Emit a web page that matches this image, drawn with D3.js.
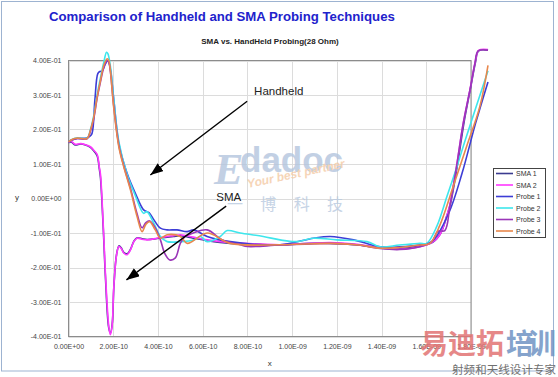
<!DOCTYPE html>
<html>
<head>
<meta charset="utf-8">
<script src="https://cdn.jsdelivr.net/npm/d3@7"></script>
<style>
	body { margin: 0; background: #fff; }
	svg { display: block; font-family: 'Liberation Sans', Arial, sans-serif; }
</style>
</head>
<body>
<div id="chart"></div>
<script>
// series names / colours as in the legend
var seriesNames = ['SMA 1', 'SMA 2', 'Probe 1', 'Probe 2', 'Probe 3', 'Probe 4'];
var seriesColors = ['#3b3b8f', '#ff38ff', '#3d3dd6', '#3ee6ec', '#9a36b8', '#e8874c'];

// [time in ps, volts]
var sma1 = [[0,0.162],[13,0.163],[31,0.155],[54,0.158],[76,0.155],[98,0.148],[113,0.138],[128,0.124],[138,0.085],[143,0.06],[155,-0.08],[165,-0.225],[180,-0.375],[188,-0.39],[196,-0.36],[203,-0.255],[215,-0.162],[226,-0.137],[236,-0.143],[248,-0.157],[263,-0.16],[278,-0.146],[293,-0.123],[308,-0.114],[330,-0.117],[352,-0.119],[396,-0.116],[441,-0.112],[470,-0.11],[500,-0.108],[558,-0.115],[620,-0.122],[723,-0.13],[857,-0.133],[946,-0.135],[1080,-0.13],[1170,-0.13],[1281,-0.134],[1393,-0.143],[1482,-0.146],[1571,-0.138],[1630,-0.126],[1665,-0.1],[1692,-0.05],[1710,-0.01],[1740,0.1],[1770,0.225],[1798,0.32],[1820,0.395],[1834,0.428],[1876,0.43]];
var sma2 = [[0,0.164],[13,0.165],[31,0.157],[54,0.159],[76,0.156],[98,0.15],[113,0.14],[128,0.128],[138,0.09],[143,0.07],[155,-0.072],[165,-0.216],[180,-0.37],[187,-0.395],[195,-0.37],[202,-0.264],[214,-0.168],[225,-0.139],[235,-0.144],[247,-0.158],[262,-0.163],[277,-0.149],[292,-0.125],[307,-0.115],[329,-0.118],[351,-0.12],[396,-0.115],[441,-0.11],[470,-0.108],[500,-0.105],[558,-0.112],[620,-0.12],[723,-0.128],[857,-0.132],[946,-0.134],[1080,-0.13],[1170,-0.128],[1281,-0.132],[1393,-0.142],[1482,-0.147],[1571,-0.14],[1625,-0.128],[1661,-0.105],[1687,-0.06],[1705,-0.02],[1735,0.092],[1765,0.217],[1795,0.314],[1817,0.39],[1832,0.428],[1844,0.432],[1876,0.432]];
var probe1 = [[0,0.164],[18,0.17],[40,0.174],[80,0.175],[95,0.18],[105,0.188],[118,0.285],[131,0.362],[140,0.368],[150,0.369],[165,0.39],[176,0.4],[187,0.376],[202,0.29],[225,0.16],[262,0.073],[299,0.015],[336,-0.033],[360,-0.041],[382,-0.062],[411,-0.086],[441,-0.091],[485,-0.091],[530,-0.096],[560,-0.091],[620,-0.11],[723,-0.125],[946,-0.134],[1095,-0.115],[1170,-0.11],[1275,-0.12],[1393,-0.14],[1480,-0.14],[1571,-0.134],[1625,-0.125],[1700,-0.043],[1760,0.073],[1820,0.217],[1876,0.338]];
var probe2 = [[0,0.164],[18,0.172],[40,0.176],[83,0.175],[98,0.2],[113,0.24],[128,0.3],[143,0.35],[158,0.395],[170,0.424],[176,0.42],[187,0.385],[202,0.29],[225,0.165],[262,0.07],[299,0.008],[336,-0.043],[350,-0.038],[382,-0.072],[411,-0.11],[441,-0.125],[500,-0.125],[560,-0.12],[590,-0.11],[620,-0.125],[679,-0.11],[710,-0.093],[768,-0.1],[871,-0.11],[946,-0.12],[1020,-0.125],[1095,-0.115],[1200,-0.12],[1335,-0.125],[1393,-0.14],[1480,-0.135],[1571,-0.13],[1602,-0.13],[1647,-0.081],[1692,0.005],[1737,0.092],[1774,0.169],[1876,0.37]];
var probe3 = [[0,0.164],[18,0.17],[40,0.174],[83,0.173],[98,0.195],[113,0.232],[128,0.29],[143,0.338],[158,0.38],[173,0.4],[180,0.395],[187,0.37],[202,0.27],[225,0.155],[247,0.095],[277,0.03],[307,-0.045],[329,-0.085],[346,-0.07],[363,-0.065],[388,-0.085],[411,-0.12],[431,-0.16],[453,-0.178],[478,-0.172],[500,-0.13],[522,-0.11],[558,-0.1],[620,-0.091],[688,-0.12],[768,-0.134],[800,-0.139],[946,-0.135],[1170,-0.13],[1300,-0.135],[1393,-0.145],[1482,-0.148],[1571,-0.14],[1625,-0.125],[1652,-0.095],[1683,-0.093],[1705,-0.024],[1735,0.092],[1765,0.217],[1795,0.314],[1817,0.39],[1832,0.428],[1876,0.43]];
var probe4 = [[0,0.164],[18,0.172],[40,0.175],[83,0.174],[98,0.198],[113,0.236],[128,0.294],[143,0.342],[158,0.386],[173,0.405],[180,0.4],[187,0.372],[202,0.265],[225,0.15],[247,0.092],[277,0.025],[307,-0.053],[329,-0.096],[346,-0.075],[363,-0.067],[388,-0.091],[411,-0.115],[441,-0.105],[500,-0.11],[531,-0.13],[620,-0.1],[723,-0.13],[946,-0.134],[1170,-0.13],[1300,-0.135],[1393,-0.144],[1480,-0.142],[1571,-0.135],[1616,-0.13],[1661,-0.077],[1720,0.034],[1780,0.15],[1839,0.265],[1876,0.386]];

var xTicks = d3.range(0, 10).map(function(i) { return i * 2e-10; });
var yTicks = d3.range(-4, 5).map(function(i) { return i / 10; });

// callouts, in data units (ps, volts)
var callouts = [
	{ label: 'Handheld', tx: 830, ty: 0.30, x1: 799, y1: 0.282, x2: 366, y2: 0.068 },
	{ label: 'SMA', tx: 661, ty: -0.007, x1: 705, y1: -0.022, x2: 259, y2: -0.236 }
];

var width = 558,
	height = 377,
	margin = { left: 68.5, top: 60.5, right: 87, bottom: 40.5 };

var series = [sma1, sma2, probe1, probe2, probe3, probe4];

function fmtE(v) {
	var s = v.toExponential(2).split('e');
	var e = +s[1];
	var pad = ('0' + Math.abs(e)).slice(-2);
	return s[0] + 'E' + (e < 0 ? '-' : '+') + pad;
}

var svg = d3.select('#chart').append('svg')
	.attr('width', width)
	.attr('height', height);

// outer frame
svg.append('rect')
	.attr('x', 1.5).attr('y', 1.5)
	.attr('width', 552).attr('height', 369.5)
	.attr('fill', '#fff')
	.attr('stroke', '#9db3d1')
	.attr('stroke-width', 1);

var x = d3.scaleLinear().domain([0, 1.8e-9]).range([margin.left, width - margin.right]);
var y = d3.scaleLinear().domain([-0.4, 0.4]).range([height - margin.bottom, margin.top]);

function px(t) { return x(t * 1e-12); }

// grid
svg.append('g').selectAll('line.h')
	.data(yTicks)
	.enter().append('line')
	.attr('x1', x(0)).attr('x2', x(1.8e-9))
	.attr('y1', function(d) { return Math.round(y(d)) + 0.5; })
	.attr('y2', function(d) { return Math.round(y(d)) + 0.5; })
	.attr('stroke', '#dcdcdc');

svg.append('g').selectAll('line.v')
	.data(xTicks)
	.enter().append('line')
	.attr('y1', y(-0.4)).attr('y2', y(0.4))
	.attr('x1', function(d) { return Math.round(x(d)) + 0.5; })
	.attr('x2', function(d) { return Math.round(x(d)) + 0.5; })
	.attr('stroke', '#dcdcdc');

svg.append('rect')
	.attr('x', x(0)).attr('y', y(0.4))
	.attr('width', x(1.8e-9) - x(0))
	.attr('height', y(-0.4) - y(0.4))
	.attr('fill', 'none')
	.attr('stroke', '#8c8c8c');

// axes (labels only, Excel style)
var yAxis = svg.append('g')
	.attr('transform', 'translate(' + (x(0) - 5) + ',0)')
	.call(d3.axisLeft(y).tickValues(yTicks).tickFormat(fmtE).tickSize(0).tickPadding(2));
var xAxis = svg.append('g')
	.attr('transform', 'translate(0,' + (y(-0.4) + 6) + ')')
	.call(d3.axisBottom(x).tickValues(xTicks).tickFormat(fmtE).tickSize(0).tickPadding(2));
[yAxis, xAxis].forEach(function(a) {
	a.select('.domain').remove();
	a.selectAll('text')
		.attr('fill', '#444')
		.style('font-size', '7px')
		.style('font-family', "'Liberation Sans', Arial, sans-serif");
});

svg.append('text')
	.attr('x', 17).attr('y', 200)
	.attr('text-anchor', 'middle')
	.attr('fill', '#333')
	.style('font-size', '8px')
	.text('y');
svg.append('text')
	.attr('x', (x(0) + x(1.8e-9)) / 2).attr('y', 366)
	.attr('text-anchor', 'middle')
	.attr('fill', '#333')
	.style('font-size', '8px')
	.text('x');

// titles
svg.append('text')
	.attr('x', 49).attr('y', 21)
	.attr('fill', '#2222cc')
	.style('font-size', '13.2px')
	.style('font-weight', 'bold')
	.text('Comparison of Handheld and SMA Probing Techniques');
svg.append('text')
	.attr('x', 270).attr('y', 44)
	.attr('text-anchor', 'middle')
	.attr('fill', '#222')
	.style('font-size', '8px')
	.style('font-weight', 'bold')
	.text('SMA vs. HandHeld Probing(28 Ohm)');

// watermark
var wm = svg.append('g').attr('opacity', 0.8);
wm.append('text')
	.attr('x', 214).attr('y', 184)
	.attr('fill', '#b3c5de')
	.style('font-family', "'Liberation Serif', serif")
	.style('font-size', '44px')
	.style('font-weight', 'bold')
	.style('font-style', 'italic')
	.text('E');
wm.append('text')
	.attr('x', 240).attr('y', 172)
	.attr('fill', '#b3c5de')
	.style('font-size', '35px')
	.style('font-weight', 'bold')
	.text('dadoc');
wm.append('text')
	.attr('transform', 'translate(248,188) rotate(-12)')
	.attr('fill', '#f5cba6')
	.style('font-size', '12px')
	.style('font-weight', 'bold')
	.style('font-style', 'italic')
	.text('Your best partner');
wm.append('text')
	.attr('x', 227).attr('y', 210)
	.attr('fill', '#b9cae0')
	.style('font-family', "'Noto Sans CJK SC', sans-serif")
	.style('font-size', '16px')
	.attr('textLength', 116)
	.text('一 博 科 技');

// series lines
var line = d3.line()
	.x(function(d) { return px(d[0]); })
	.y(function(d) { return y(d[1]); })
	.curve(d3.curveCatmullRom.alpha(0.5));

svg.append('g').selectAll('path')
	.data(series)
	.enter().append('path')
	.attr('d', line)
	.attr('fill', 'none')
	.attr('stroke', function(d, i) { return seriesColors[i]; })
	.attr('stroke-width', 1.6)
	.attr('stroke-linejoin', 'round');

// callouts
svg.append('defs').append('marker')
	.attr('id', 'arr')
	.attr('markerUnits', 'userSpaceOnUse')
	.attr('markerWidth', 14).attr('markerHeight', 10)
	.attr('refX', 13).attr('refY', 5)
	.attr('orient', 'auto')
	.append('path')
	.attr('d', 'M0,0 L13,5 L0,10 z')
	.attr('fill', '#000');

var co = svg.append('g').selectAll('g')
	.data(callouts)
	.enter().append('g');
co.append('line')
	.attr('x1', function(d) { return px(d.x1); })
	.attr('y1', function(d) { return y(d.y1); })
	.attr('x2', function(d) { return px(d.x2); })
	.attr('y2', function(d) { return y(d.y2); })
	.attr('stroke', '#000')
	.attr('stroke-width', 1.4)
	.attr('marker-end', 'url(#arr)');
co.append('text')
	.attr('x', function(d) { return px(d.tx); })
	.attr('y', function(d) { return y(d.ty); })
	.attr('fill', '#222')
	.style('font-size', '11.5px')
	.text(function(d) { return d.label; });

// legend
var legend = svg.append('g').attr('transform', 'translate(493,168)');
legend.append('rect')
	.attr('x', 0.5).attr('y', 0.5)
	.attr('width', 52).attr('height', 69)
	.attr('fill', '#fff')
	.attr('stroke', '#444');
var li = legend.selectAll('g.item')
	.data(seriesNames)
	.enter().append('g')
	.attr('transform', function(d, i) { return 'translate(0,' + (5.5 + i * 11.5) + ')'; });
li.append('line')
	.attr('x1', 3).attr('x2', 20)
	.attr('stroke', function(d, i) { return seriesColors[i]; })
	.attr('stroke-width', 1.6);
li.append('text')
	.attr('x', 23).attr('y', 2.5)
	.attr('fill', '#333')
	.style('font-size', '7px')
	.text(function(d) { return d; });

// bottom-right watermark
var wm2 = svg.append('g').style('font-family', "'Noto Sans CJK SC', sans-serif");
wm2.append('text')
	.attr('x', 420).attr('y', 354)
	.attr('fill', '#e27474')
	.attr('opacity', 0.85)
	.style('font-size', '28px')
	.style('font-weight', 'bold')
	.attr('textLength', 84)
	.text('易迪拓');
wm2.append('text')
	.attr('x', 506).attr('y', 354)
	.attr('fill', '#7094c4')
	.attr('opacity', 0.85)
	.style('font-size', '28px')
	.style('font-weight', 'bold')
	.attr('textLength', 50)
	.text('培训');
wm2.append('text')
	.attr('x', 452).attr('y', 374)
	.attr('fill', '#707070')
	.style('font-size', '11.5px')
	.attr('textLength', 104)
	.text('射频和天线设计专家');
</script>
</body>
</html>
